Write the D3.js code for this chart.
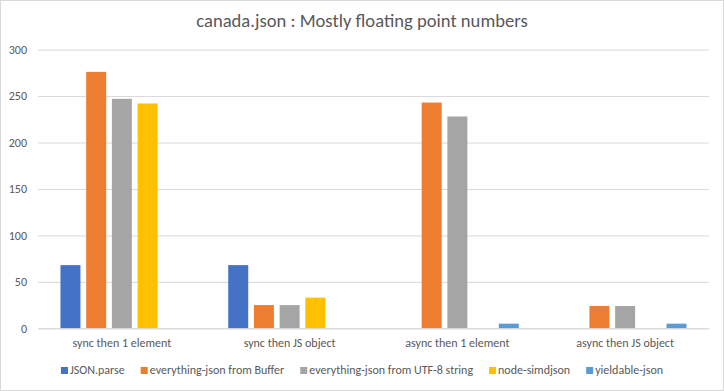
<!DOCTYPE html>
<html>
<head>
<meta charset="utf-8">
<script src="https://cdn.jsdelivr.net/npm/d3@7"></script>
<style>
  html, body { margin: 0; padding: 0; background: #fff; }
  svg { display: block; }
  text { font-family: Carlito, Calibri, Lato, sans-serif; fill: #595959; }
</style>
</head>
<body>
<svg id="chart" width="724" height="391"></svg>
<script>
const title = "canada.json : Mostly floating point numbers";
const categories = ["sync then 1 element", "sync then JS object", "async then 1 element", "async then JS object"];
const seriesNames = ["JSON.parse", "everything-json from Buffer", "everything-json from UTF-8 string", "node-simdjson", "yieldable-json"];
const seriesColors = ["#4472C4", "#ED7D31", "#A5A5A5", "#FFC000", "#5B9BD5"];
const jsonParse = [68, 68, null, null];
const ejBuffer = [276, 25, 243, 24];
const ejString = [247, 25, 228, 24];
const simdjson = [242, 33, null, null];
const yieldable = [null, null, 5, 5];
const yTicks = [0, 50, 100, 150, 200, 250, 300];

const values = [jsonParse, ejBuffer, ejString, simdjson, yieldable];

const W = 724, H = 391;
const svg = d3.select("#chart");

// outer border
svg.append("rect").attr("x", 0.5).attr("y", 0.5).attr("width", W - 1).attr("height", H - 1)
  .attr("fill", "#fff").attr("stroke", "#d9d9d9");

const plot = { left: 38, right: 709, top: 49.6, bottom: 328.3 };

const x0 = d3.scaleBand().domain(categories).range([plot.left, plot.right]).paddingInner(0).paddingOuter(0);
const x1 = d3.scaleBand().domain(seriesNames).range([0, x0.bandwidth()]).paddingInner(0.222).paddingOuter(0.874);
const y = d3.scaleLinear().domain([0, 300]).range([plot.bottom, plot.top]);

// title
svg.append("text").attr("x", 362).attr("y", 27).attr("text-anchor", "middle")
  .style("font-size", "18.6px").text(title);

// gridlines
const yAxis = d3.axisLeft(y).tickValues(yTicks).tickSize(-(plot.right - plot.left)).tickPadding(11);
const gy = svg.append("g").attr("transform", `translate(${plot.left},0)`).call(yAxis);
gy.select(".domain").remove();
gy.selectAll(".tick line").attr("stroke", "#d9d9d9").attr("stroke-width", 1);
gy.selectAll(".tick text").style("font-size", "12px").attr("fill", "#595959")
  .style("font-family", "Carlito, Calibri, Lato, sans-serif");

// bars
const rows = [];
categories.forEach((c, ci) => {
  seriesNames.forEach((s, si) => {
    const v = values[si][ci];
    if (v != null) rows.push({ c, s, v, color: seriesColors[si] });
  });
});
svg.append("g").selectAll("rect").data(rows).join("rect")
  .attr("x", d => x0(d.c) + x1(d.s))
  .attr("width", x1.bandwidth())
  .attr("y", d => y(d.v))
  .attr("height", d => y(0) - y(d.v))
  .attr("fill", d => d.color);

// x axis
const xAxis = d3.axisBottom(x0).tickSize(0).tickPadding(10);
const gx = svg.append("g").attr("transform", `translate(0,${plot.bottom})`).call(xAxis);
gx.select(".domain").attr("stroke", "#d9d9d9");
gx.selectAll(".tick text").style("font-size", "12px").attr("fill", "#595959")
  .style("font-family", "Carlito, Calibri, Lato, sans-serif");

// legend
const legend = svg.append("g");
const items = legend.selectAll("g").data(seriesNames).join("g");
items.append("rect").attr("width", 7).attr("height", 7).attr("y", -7)
  .attr("fill", (d, i) => seriesColors[i]);
items.append("text").attr("x", 9).attr("y", 0).style("font-size", "12px").text(d => d);
let xpos = 0;
const offsets = [];
items.each(function () {
  const w = this.querySelector("text").getComputedTextLength() + 9;
  offsets.push(xpos);
  xpos += w + 16;
});
const totalW = xpos - 16;
const startX = 362 - totalW / 2;
items.attr("transform", (d, i) => `translate(${startX + offsets[i]},374)`);
</script>
</body>
</html>
